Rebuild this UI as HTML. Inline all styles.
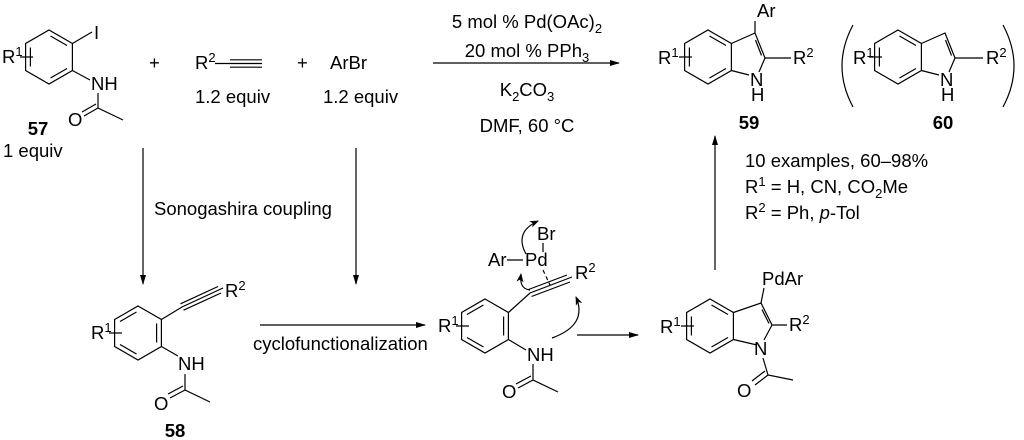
<!DOCTYPE html>
<html><head><meta charset="utf-8"><style>
html,body{margin:0;padding:0;background:#fff;}
svg{display:block;}
text{font-family:"Liberation Sans",Arial,sans-serif;font-size:18.5px;fill:#000;}
.b{font-weight:bold;}
</style></head><body>
<svg width="1024" height="440" viewBox="0 0 1024 440" xmlns="http://www.w3.org/2000/svg">
<defs>
<marker id="ah" markerWidth="10" markerHeight="8" refX="9" refY="4" orient="auto" markerUnits="userSpaceOnUse">
<path d="M0,1 L10,4 L0,7 Z" fill="#000"/></marker>
<marker id="ch" markerWidth="9" markerHeight="8" refX="8" refY="4" orient="auto" markerUnits="userSpaceOnUse">
<path d="M0,0.5 L9,4 L0,7.5 L2.5,4 Z" fill="#000"/></marker>
<g id="ringA" fill="none" stroke="#000" stroke-width="1.2">
<path d="M0,-27 L23.4,-13.5 L23.4,13.5 L0,27 L-23.4,13.5 L-23.4,-13.5Z"/>
<path d="M1.5,-21 L18,-11.5 M18,11.5 L1.5,21 M-18.6,-9.5 L-18.6,9.5 M-29,0 L-16,0"/>
</g>
<g id="ringB" fill="none" stroke="#000" stroke-width="1.2">
<path d="M0,-27 L23.4,-13.5 L23.4,13.5 L0,27 L-23.4,13.5 L-23.4,-13.5Z"/>
<path d="M-1.5,-21 L-18,-11.5 M18.6,-9.5 L18.6,9.5 M-18,11.5 L-1.5,21 M-29,0 L-16,0"/>
</g>
</defs>
<g stroke="#000" stroke-width="1.2" fill="none">
<use href="#ringA" x="49" y="57"/>
<path d="M72.4,43.5 L92,32 M72.4,70.5 L90,80 M98,93 L98,108 L123,120 M98,108 L84,116 M96,104 L82,112"/>
<path d="M215,63.5 L228,63.5 M228,63.5 L262,63.5 M230,59.8 L262,59.8 M230,67.2 L262,67.2"/>
<path d="M433,63 L619,63" marker-end="url(#ah)"/>
<path d="M143,148 L143,284" marker-end="url(#ah)"/>
<path d="M356,148 L356,284" marker-end="url(#ah)"/>
<use href="#ringB" x="138" y="333"/>
<path d="M161.4,319.5 L182,307 L223,288 M183.5,310.2 L221,293 M180.5,303.8 L218,286.5 M161.4,346.5 L178,356 M185,374 L185,390 L210,402 M185,390 L170,398 M183,386 L168,394"/>
<path d="M260,325 L425,325" marker-end="url(#ah)"/>
<use href="#ringB" x="485" y="326"/>
<path d="M508.4,312.5 L530,293 L572,277 M531.5,296.5 L570,282 M528.5,289.5 L567,275 M508.4,339.5 L526,350 M533,364 L533,380 L558,392 M533,380 L518,388 M531,376 L516,384"/>
<path d="M507,260 L523,260 M543,243 L543,252"/>
<path d="M543,270 L550,285" stroke-dasharray="4,3"/>
<path d="M526,254 Q514,232 538,221" marker-end="url(#ch)"/>
<path d="M530,290 Q519,289 521,274" marker-end="url(#ch)"/>
<path d="M552,338 Q588,325 576,297" marker-end="url(#ch)"/>
<path d="M577,335 L638,335" marker-end="url(#ah)"/>
<use href="#ringA" x="710" y="326"/>
<path d="M733.4,312.5 L761,303 L772,325 M762,309.5 L769,323.5 M772,325 L787,325 M761,303 L764,288 M772,325 L764,340 M757,345 L733.4,339.5 M763,358 L768,375 L793,380 M768,375 L755,385 M765,371 L752,381"/>
<path d="M715,270 L715,136" marker-end="url(#ah)"/>
<use href="#ringA" x="708" y="57"/>
<path d="M731.4,43.5 L755,33 L765,58 M755.5,40 L761.5,55.5 M765,58 L791,58 M755,33 L755,21 M765,58 L759,72 M749,75 L731.4,70.5"/>
<use href="#ringA" x="898" y="57"/>
<path d="M921.4,43.5 L945,33 L955,58 M945.5,40 L951.5,55.5 M955,58 L983,58 M955,58 L949,72 M939,75 L921.4,70.5"/>
<path d="M853,25 Q831,66 853,107 M1003,25 Q1025,66 1003,107"/>
</g>
<text x="2" y="63">R<tspan font-size="13" dy="-7">1</tspan></text>
<text x="94" y="39">I</text>
<text x="91" y="90">NH</text>
<text x="68" y="126">O</text>
<text class="b" x="38" y="135" text-anchor="middle">57</text>
<text x="3" y="157">1 equiv</text>
<text x="149" y="69">+</text>
<text x="195" y="69">R<tspan font-size="13" dy="-7">2</tspan></text>
<text x="297" y="69">+</text>
<text x="330" y="69">ArBr</text>
<text x="195" y="103">1.2 equiv</text>
<text x="323" y="103">1.2 equiv</text>
<text x="527" y="28" text-anchor="middle">5 mol % Pd(OAc)<tspan font-size="13" dy="5">2</tspan></text>
<text x="527" y="57" text-anchor="middle">20 mol % PPh<tspan font-size="13" dy="5">3</tspan></text>
<text x="527" y="96" text-anchor="middle">K<tspan font-size="13" dy="5">2</tspan><tspan dy="-5">CO</tspan><tspan font-size="13" dy="5">3</tspan></text>
<text x="527" y="132" text-anchor="middle">DMF, 60 °C</text>
<text x="154" y="215">Sonogashira coupling</text>
<text x="91" y="339">R<tspan font-size="13" dy="-7">1</tspan></text>
<text x="225" y="297">R<tspan font-size="13" dy="-7">2</tspan></text>
<text x="178" y="370">NH</text>
<text x="154" y="410">O</text>
<text class="b" x="175" y="437" text-anchor="middle">58</text>
<text x="253" y="350">cyclofunctionalization</text>
<text x="438" y="332">R<tspan font-size="13" dy="-7">1</tspan></text>
<text x="488" y="266">Ar</text>
<text x="525" y="266">Pd</text>
<text x="537" y="240">Br</text>
<text x="575" y="279">R<tspan font-size="13" dy="-7">2</tspan></text>
<text x="527" y="361">NH</text>
<text x="502" y="398">O</text>
<text x="660" y="333">R<tspan font-size="13" dy="-7">1</tspan></text>
<text x="762" y="285">PdAr</text>
<text x="789" y="331">R<tspan font-size="13" dy="-7">2</tspan></text>
<text x="754" y="355">N</text>
<text x="737" y="397">O</text>
<text x="745" y="167">10 examples, 60–98%</text>
<text x="745" y="193">R<tspan font-size="13" dy="-7">1</tspan><tspan dy="7"> = H, CN, CO</tspan><tspan font-size="13" dy="5">2</tspan><tspan dy="-5">Me</tspan></text>
<text x="745" y="219">R<tspan font-size="13" dy="-7">2</tspan><tspan dy="7"> = Ph, </tspan><tspan font-style="italic">p</tspan>-Tol</text>
<text x="658" y="64">R<tspan font-size="13" dy="-7">1</tspan></text>
<text x="757" y="17">Ar</text>
<text x="793" y="64">R<tspan font-size="13" dy="-7">2</tspan></text>
<text x="750" y="86">N</text>
<text x="751" y="101">H</text>
<text class="b" x="749" y="129" text-anchor="middle">59</text>
<text x="853" y="64">R<tspan font-size="13" dy="-7">1</tspan></text>
<text x="986" y="64">R<tspan font-size="13" dy="-7">2</tspan></text>
<text x="940" y="86">N</text>
<text x="941" y="101">H</text>
<text class="b" x="943" y="129" text-anchor="middle">60</text>
</svg>
</body></html>
